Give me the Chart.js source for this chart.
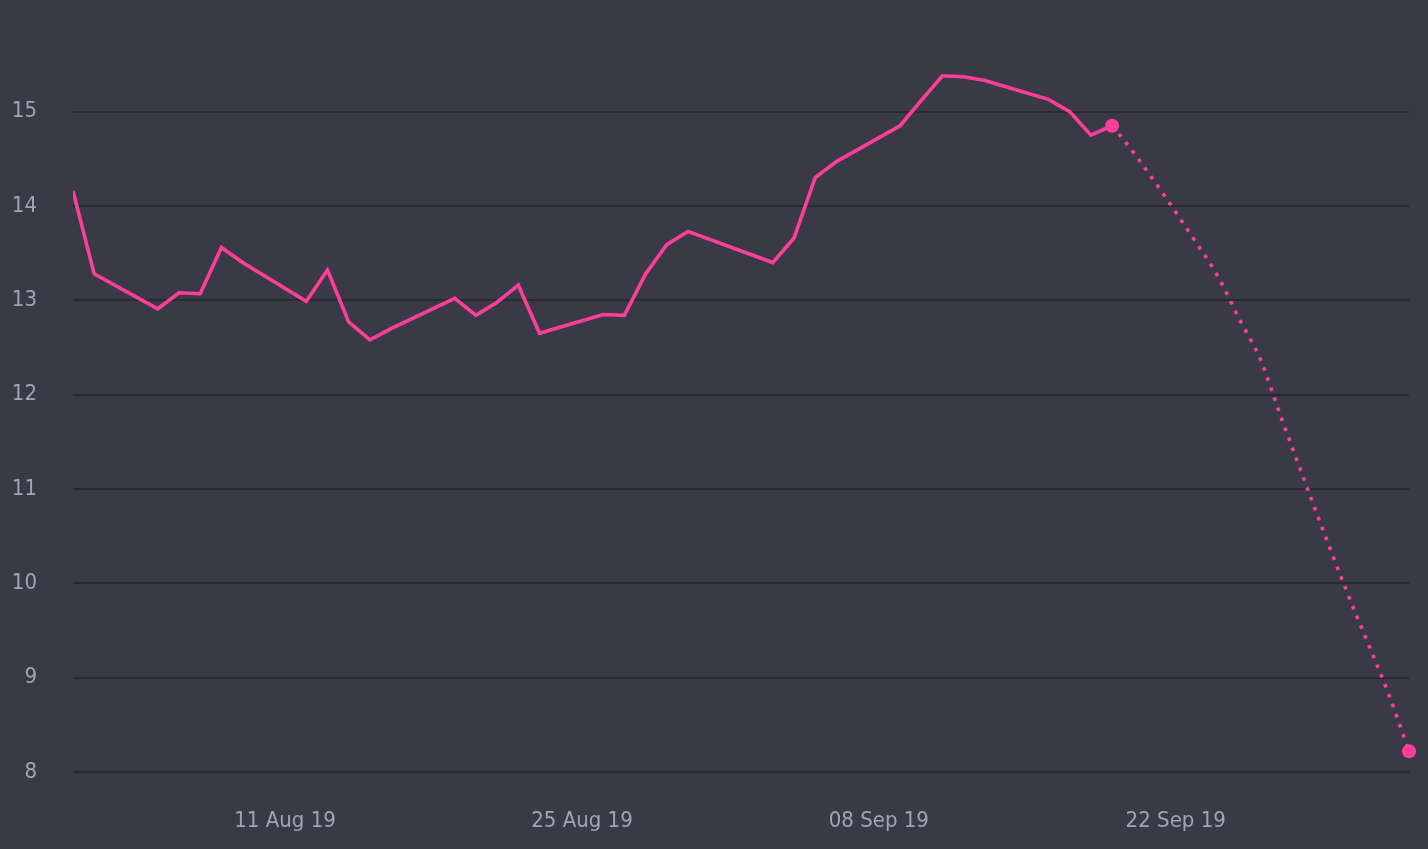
<!DOCTYPE html>
<html lang="en">
<head>
  <meta charset="UTF-8">
  <title>Price and forecast</title>
  <script src="https://cdn.jsdelivr.net/npm/chart.js"></script>
  <style>
    body { margin: 0; background: #3a3a46; }
    #wrap { width: 1428px; height: 849px; }
  </style>
</head>
<body>
  <div id="wrap"><canvas id="priceChart"></canvas></div>

  <script>
    // trading days (weekends and Labor Day skipped)
    const dates = [
      "2019-08-01", "2019-08-02", "2019-08-05", "2019-08-06", "2019-08-07", "2019-08-08", "2019-08-09",
      "2019-08-12", "2019-08-13", "2019-08-14", "2019-08-15", "2019-08-16",
      "2019-08-19", "2019-08-20", "2019-08-21", "2019-08-22", "2019-08-23",
      "2019-08-26", "2019-08-27", "2019-08-28", "2019-08-29", "2019-08-30",
      "2019-09-03", "2019-09-04", "2019-09-05", "2019-09-06",
      "2019-09-09", "2019-09-10", "2019-09-11", "2019-09-12", "2019-09-13",
      "2019-09-16", "2019-09-17", "2019-09-18", "2019-09-19"
    ];
    const values = [
      14.16, 13.28, 12.91, 13.08, 13.07, 13.56, 13.40,
      12.99, 13.32, 12.77, 12.58, 12.70,
      13.02, 12.84, 12.98, 13.16, 12.65,
      12.85, 12.84, 13.28, 13.59, 13.73,
      13.40, 13.66, 14.30, 14.47,
      14.85, 15.12, 15.38, 15.37, 15.33,
      15.13, 15.00, 14.75, 14.85
    ];

    const forecastDates = [
      "2019-09-19", "2019-09-20", "2019-09-23", "2019-09-24", "2019-09-25", "2019-09-26",
      "2019-09-27", "2019-09-30", "2019-10-01", "2019-10-02", "2019-10-03"
    ];
    const forecastValues = [14.85, 14.57, 13.60, 13.25, 12.80, 12.37, 11.74, 9.95, 9.40, 8.85, 8.22];

    const xTickDates = ["2019-08-11", "2019-08-25", "2019-09-08", "2019-09-22"];
    const yTicks = [8, 9, 10, 11, 12, 13, 14, 15];

    const months = ["Jan", "Feb", "Mar", "Apr", "May", "Jun", "Jul", "Aug", "Sep", "Oct", "Nov", "Dec"];
    const ts = d => new Date(d + "T00:00:00Z").getTime();
    const fmt = v => {
      const d = new Date(v);
      return String(d.getUTCDate()).padStart(2, "0") + " " + months[d.getUTCMonth()] + " " + String(d.getUTCFullYear()).slice(2);
    };

    const pink = "#ff3d9a";
    const labelColor = "#a3a3b3";
    // "condensed" rides along in the weight slot so the canvas picks the narrow face
    const font = { family: "'DejaVu Sans Condensed', 'DejaVu Sans', sans-serif", weight: "normal condensed", size: 22 };

    new Chart(document.getElementById("priceChart"), {
      type: "line",
      data: {
        datasets: [
          {
            data: dates.map((d, i) => ({ x: ts(d), y: values[i] })),
            borderColor: pink,
            borderWidth: 3.6,
            pointRadius: 0,
            tension: 0
          },
          {
            data: forecastDates.map((d, i) => ({ x: ts(d), y: forecastValues[i] })),
            borderColor: pink,
            backgroundColor: pink,
            borderWidth: 3.6,
            borderDash: [3.6, 7],
            cubicInterpolationMode: "monotone",
            clip: false,
            pointRadius: ctx => (ctx.dataIndex === 0 || ctx.dataIndex === forecastDates.length - 1) ? 7 : 0,
            pointBorderWidth: 0
          }
        ]
      },
      options: {
        responsive: true,
        maintainAspectRatio: false,
        animation: false,
        layout: { padding: { top: 55, right: 19, left: 0, bottom: 0 } },
        plugins: { legend: { display: false }, tooltip: { enabled: false } },
        scales: {
          x: {
            type: "linear",
            min: ts("2019-08-01"),
            max: ts("2019-10-03"),
            grid: { display: false },
            border: { display: false },
            afterBuildTicks: axis => { axis.ticks = xTickDates.map(d => ({ value: ts(d) })); },
            afterFit: axis => { axis.height = 77; },
            ticks: {
              color: labelColor,
              font: font,
              padding: 28,
              maxRotation: 0,
              autoSkip: false,
              callback: v => fmt(v)
            }
          },
          y: {
            min: 8,
            max: 15.6,
            grid: { color: "#292930", lineWidth: 2, drawTicks: false },
            border: { display: false },
            afterBuildTicks: axis => { axis.ticks = yTicks.map(v => ({ value: v })); },
            afterFit: axis => { axis.width = 73; },
            ticks: {
              color: labelColor,
              font: font,
              padding: 36
            }
          }
        }
      }
    });
  </script>
</body>
</html>
